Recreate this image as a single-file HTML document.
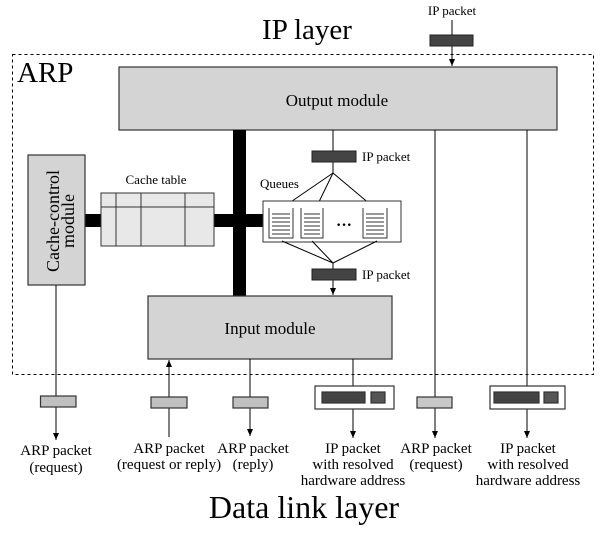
<!DOCTYPE html>
<html><head><meta charset="utf-8"><style>
html,body{margin:0;padding:0;background:#fff;}
svg{display:block;font-family:"Liberation Serif",serif;}
</style></head><body>
<svg width="605" height="533" viewBox="0 0 605 533" xmlns="http://www.w3.org/2000/svg">
<defs>
<marker id="ah" markerWidth="8" markerHeight="8" refX="7" refY="4" orient="auto" markerUnits="userSpaceOnUse">
<path d="M0,1 L7,4 L0,7 Z" fill="#000"/></marker>
</defs>
<text x="307" y="39" font-size="29" text-anchor="middle">IP layer</text>
<text x="452" y="15" font-size="13" text-anchor="middle">IP packet</text>
<line x1="452" y1="20" x2="452" y2="66" stroke="#000" marker-end="url(#ah)"/>
<rect x="430" y="35" width="43" height="11" fill="#444" stroke="#222"/>
<rect x="12.5" y="54.5" width="581" height="320" fill="none" stroke="#000" stroke-dasharray="3,3"/>
<text x="17" y="82" font-size="29">ARP</text>
<rect x="119" y="67" width="438" height="63" fill="#d4d4d4" stroke="#333" stroke-width="1.2"/>
<text x="337" y="106" font-size="17" text-anchor="middle">Output module</text>
<!-- thick bus -->
<rect x="233" y="130" width="13" height="166" fill="#000"/>
<rect x="85" y="214" width="178" height="13" fill="#000"/>
<!-- cache control -->
<rect x="28" y="155" width="57" height="130" fill="#d4d4d4" stroke="#333" stroke-width="1.2"/>
<text transform="translate(59,221) rotate(-90)" font-size="18" text-anchor="middle">Cache-control</text>
<text transform="translate(74,221) rotate(-90)" font-size="18" text-anchor="middle">module</text>
<!-- cache table -->
<text x="156" y="184" font-size="13" text-anchor="middle">Cache table</text>
<rect x="101" y="193" width="113" height="53" fill="#e8e8e8" stroke="#333"/>
<line x1="101" y1="207" x2="214" y2="207" stroke="#333"/>
<line x1="116" y1="193" x2="116" y2="246" stroke="#333"/>
<line x1="141" y1="193" x2="141" y2="246" stroke="#333"/>
<line x1="185" y1="193" x2="185" y2="246" stroke="#333"/>
<!-- queue path -->
<line x1="333" y1="130" x2="333" y2="173" stroke="#000"/>
<rect x="312" y="151" width="44" height="11" fill="#444" stroke="#222"/>
<text x="362" y="161" font-size="13">IP packet</text>
<text x="260" y="188" font-size="13">Queues</text>
<line x1="333" y1="173" x2="279" y2="210" stroke="#000" marker-end="url(#ah)"/>
<line x1="333" y1="173" x2="315" y2="210" stroke="#000" marker-end="url(#ah)"/>
<line x1="333" y1="173" x2="377" y2="210" stroke="#000" marker-end="url(#ah)"/>
<rect x="263" y="201" width="138" height="41" fill="#fff" stroke="#333"/>
<g stroke="#333" fill="none">
<path d="M269,208 V238 H293 V208"/><path d="M301,208 V238 H323 V208"/><path d="M363,208 V238 H387 V208"/>
<path d="M272,214H290M272,218H290M272,222H290M272,226H290M272,230H290M272,234H290"/>
<path d="M304,214H320M304,218H320M304,222H320M304,226H320M304,230H320M304,234H320"/>
<path d="M366,214H384M366,218H384M366,222H384M366,226H384M366,230H384M366,234H384"/>
</g>
<text x="344" y="230" font-size="16" text-anchor="middle" font-weight="bold">···</text>
<path d="M282,241 L333,263 M312,241 L333,263 M377,241 L333,263" stroke="#000" fill="none"/>
<line x1="333" y1="263" x2="333" y2="295" stroke="#000" marker-end="url(#ah)"/>
<rect x="312" y="269" width="44" height="11" fill="#444" stroke="#222"/>
<text x="362" y="279" font-size="13">IP packet</text>
<!-- input module -->
<rect x="148" y="296" width="244" height="63" fill="#d4d4d4" stroke="#333" stroke-width="1.2"/>
<text x="270" y="334" font-size="17" text-anchor="middle">Input module</text>
<!-- lines -->
<line x1="435" y1="130" x2="435" y2="438" stroke="#000" marker-end="url(#ah)"/>
<line x1="527" y1="130" x2="527" y2="438" stroke="#000" marker-end="url(#ah)"/>
<line x1="56" y1="285" x2="56" y2="440" stroke="#000" marker-end="url(#ah)"/>
<line x1="169" y1="437" x2="169" y2="360" stroke="#000" marker-end="url(#ah)"/>
<line x1="250" y1="359" x2="250" y2="436" stroke="#000" marker-end="url(#ah)"/>
<line x1="353" y1="359" x2="353" y2="438" stroke="#000" marker-end="url(#ah)"/>
<!-- packets -->
<g stroke="#333" stroke-width="1.2">
<rect x="40.5" y="396" width="35.5" height="11" fill="#c0c0c0"/>
<rect x="151" y="397" width="36" height="11" fill="#c0c0c0"/>
<rect x="233" y="397" width="35" height="11" fill="#c0c0c0"/>
<rect x="417" y="397" width="35" height="11" fill="#c8c8c8"/>
<rect x="315" y="386" width="79" height="23" fill="#fff"/>
<rect x="322" y="392" width="43" height="11" fill="#444"/>
<rect x="371" y="392" width="14" height="11" fill="#555"/>
<rect x="490" y="386" width="75" height="23" fill="#fff"/>
<rect x="494" y="392" width="45" height="11" fill="#444"/>
<rect x="544" y="392" width="14" height="11" fill="#555"/>
</g>
<g font-size="15" text-anchor="middle">
<text x="56" y="455">ARP packet</text><text x="56" y="472">(request)</text>
<text x="169" y="453">ARP packet</text><text x="169" y="469">(request or reply)</text>
<text x="253" y="453">ARP packet</text><text x="253" y="469">(reply)</text>
<text x="353" y="453">IP packet</text><text x="353" y="469">with resolved</text><text x="353" y="485">hardware address</text>
<text x="436" y="453">ARP packet</text><text x="436" y="469">(request)</text>
<text x="528" y="453">IP packet</text><text x="528" y="469">with resolved</text><text x="528" y="485">hardware address</text>
</g>
<text x="304" y="518" font-size="32" text-anchor="middle">Data link layer</text>
</svg>
</body></html>
